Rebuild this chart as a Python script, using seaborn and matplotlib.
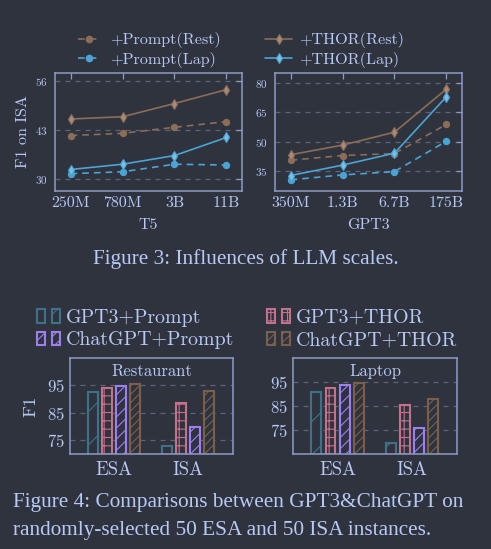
import numpy as np
import pandas as pd
import matplotlib
matplotlib.use("Agg")
import matplotlib.pyplot as plt
import seaborn as sns
from matplotlib.lines import Line2D
from matplotlib.patches import Patch
from matplotlib.legend_handler import HandlerTuple

# ---------------- data ----------------
t5_sizes = ["250M", "780M", "3B", "11B"]
gpt3_sizes = ["350M", "1.3B", "6.7B", "175B"]

t5_prompt_rest = [41.5, 42.1, 43.7, 45.2]
t5_prompt_lap = [31.4, 31.9, 33.9, 33.7]
t5_thor_rest = [45.9, 46.5, 50.0, 53.7]
t5_thor_lap = [32.5, 33.9, 36.2, 41.0]

gpt3_prompt_rest = [40.6, 43.0, 44.0, 58.9]
gpt3_prompt_lap = [30.6, 33.1, 34.8, 50.3]
gpt3_thor_rest = [43.4, 48.3, 54.9, 76.9]
gpt3_thor_lap = [32.8, 38.1, 44.2, 73.0]

t5_yticks = [30, 43, 56]
gpt3_yticks = [35, 50, 65, 80]

tasks = ["ESA", "ISA"]
methods = ["GPT3+Prompt", "GPT3+THOR", "ChatGPT+Prompt", "ChatGPT+THOR"]
rest_gpt3_prompt = [92.7, 72.8]
rest_gpt3_thor = [94.0, 88.7]
rest_chatgpt_prompt = [94.8, 80.0]
rest_chatgpt_thor = [95.5, 92.8]
lap_gpt3_prompt = [91.0, 69.7]
lap_gpt3_thor = [92.4, 85.4]
lap_chatgpt_prompt = [93.75, 75.7]
lap_chatgpt_thor = [94.6, 87.8]
bar_yticks = [75, 85, 95]

# ---------------- style ----------------
BG = "#2f333e"
TXT = "#b8c9f5"
SPINE = "#8e9bc6"
GRID = "#5d6376"
BROWN = "#8b6d58"
BROWN_L = "#a88c78"
BLUE = "#4ba4d4"
BLUE_L = "#7cbfe2"
BAR_COLORS = ["#3f7189", "#c4718c", "#9d80ec", "#7a604c"]
HATCHES = ["/", "++", "///", "////"]

sns.set_theme(style="dark")
plt.rcParams["font.family"] = ["cmr10", "DejaVu Serif"]
plt.rcParams["axes.formatter.use_mathtext"] = True
plt.rcParams["hatch.linewidth"] = 0.8
plt.rcParams["text.color"] = TXT
plt.rcParams["axes.labelcolor"] = TXT

W, H = 491, 549
fig = plt.figure(figsize=(W / 100, H / 100), dpi=100, facecolor=BG)


def ax_px(l, t, r, b):
    return fig.add_axes([l / W, 1 - b / H, (r - l) / W, (b - t) / H])


def style_axes(ax):
    ax.set_facecolor(BG)
    for s in ax.spines.values():
        s.set_visible(True)
        s.set_color(SPINE)
        s.set_linewidth(1.1)
    ax.xaxis.grid(False)
    ax.yaxis.grid(True, color=GRID, linestyle=(0, (4, 4)), linewidth=0.9)
    ax.set_axisbelow(True)


def line_panel(ax, sizes, series, ylim, yticks, xlabel):
    style_axes(ax)
    for values, color, face, ls, marker, ms in series:
        df = pd.DataFrame({"size": sizes, "f1": values})
        sns.lineplot(data=df, x="size", y="f1", ax=ax, sort=False, color=color,
                     linestyle=ls, marker=marker, markersize=ms,
                     markeredgecolor=color, markerfacecolor=face,
                     markeredgewidth=0.8, linewidth=1.2)
    ax.set_xlim(-0.3, 3.3)
    ax.set_ylim(*ylim)
    ax.set_yticks(yticks)
    ax.set_xlabel(xlabel, fontsize=11.5, labelpad=6)
    ax.set_ylabel("")
    ax.tick_params(axis="both", direction="in", top=True, right=True,
                   length=4, width=0.9, color=SPINE, labelcolor=TXT)
    ax.tick_params(axis="x", labelsize=11.5, pad=4)
    ax.tick_params(axis="y", labelsize=8, pad=5)


DASH = (0, (4, 3))
ax1 = ax_px(55, 73, 242, 191)
line_panel(ax1, t5_sizes, [
    (t5_prompt_rest, BROWN, BROWN, DASH, "o", 4.5),
    (t5_prompt_lap, BLUE, BLUE, DASH, "o", 4.5),
    (t5_thor_rest, BROWN, BROWN_L, "-", "d", 5),
    (t5_thor_lap, BLUE, BLUE_L, "-", "d", 5),
], (26.8, 58.1), t5_yticks, "T5")
ax1.set_ylabel("F1 on ISA", fontsize=11.5, labelpad=4)

ax2 = ax_px(275, 73, 462, 191)
line_panel(ax2, gpt3_sizes, [
    (gpt3_prompt_rest, BROWN, BROWN, DASH, "o", 4.5),
    (gpt3_prompt_lap, BLUE, BLUE, DASH, "o", 4.5),
    (gpt3_thor_rest, BROWN, BROWN_L, "-", "d", 5),
    (gpt3_thor_lap, BLUE, BLUE_L, "-", "d", 5),
], (24.9, 85.1), gpt3_yticks, "GPT3")

# line legends
h_pr = Line2D([], [], color=BROWN, ls=DASH, marker="o", ms=4.5, lw=1.2)
h_pl = Line2D([], [], color=BLUE, ls=DASH, marker="o", ms=4.5, lw=1.2)
h_tr = Line2D([], [], color=BROWN, ls="-", marker="d", ms=5, lw=1.2,
              mfc=BROWN_L, mec=BROWN, mew=0.8)
h_tl = Line2D([], [], color=BLUE, ls="-", marker="d", ms=5, lw=1.2,
              mfc=BLUE_L, mec=BLUE, mew=0.8)
leg_kw = dict(frameon=False, fontsize=11.6, borderpad=0, borderaxespad=0,
              labelspacing=0.2, labelcolor=TXT)
fig.legend([h_pr, h_pl], ["+Prompt(Rest)", "+Prompt(Lap)"], loc="center left",
           bbox_to_anchor=(78 / W, 1 - 50 / H), handlelength=1.4,
           handletextpad=0.6, **leg_kw)
fig.legend([h_tr, h_tl], ["+THOR(Rest)", "+THOR(Lap)"], loc="center left",
           bbox_to_anchor=(265 / W, 1 - 50 / H), handlelength=1.7,
           handletextpad=0.4, **leg_kw)


def bar_panel(ax, values, ylim, title):
    style_axes(ax)
    df = pd.DataFrame({
        "task": tasks * len(methods),
        "method": np.repeat(methods, len(tasks)),
        "f1": np.concatenate(values),
    })
    sns.barplot(data=df, x="task", y="f1", hue="method", hue_order=methods,
                palette=BAR_COLORS, fill=False, width=0.76, gap=0.3,
                linewidth=1.5, ax=ax, legend=False, errorbar=None)
    for cont, hatch, col in zip(ax.containers, HATCHES, BAR_COLORS):
        for p in cont:
            p.set_facecolor(BG)
            p.set_edgecolor(col)
            p.set_hatch(hatch)
    ax.set_xlim(-0.6, 1.61)
    ax.set_ylim(*ylim)
    ax.set_yticks(bar_yticks)
    ax.set_xlabel("")
    ax.set_ylabel("")
    ax.tick_params(axis="both", length=0, labelcolor=TXT)
    ax.tick_params(axis="x", labelsize=13.5, pad=5)
    ax.tick_params(axis="y", labelsize=12, pad=4)
    ax.text(0.5, 0.865, title, transform=ax.transAxes, ha="center",
            va="center", fontsize=12, color=TXT)


ax3 = ax_px(70, 358, 233, 454)
bar_panel(ax3, [rest_gpt3_prompt, rest_gpt3_thor, rest_chatgpt_prompt,
                rest_chatgpt_thor], (70, 105), "Restaurant")
ax3.set_ylabel("F1", fontsize=13.3, labelpad=6)

ax4 = ax_px(293, 358, 457, 454)
bar_panel(ax4, [lap_gpt3_prompt, lap_gpt3_thor, lap_chatgpt_prompt,
                lap_chatgpt_thor], (65, 105), "Laptop")


def bar_handle(i):
    mk = lambda: Patch(facecolor=BG, edgecolor=BAR_COLORS[i], hatch=HATCHES[i], lw=1.5)
    return (mk(), mk())


bleg_kw = dict(frameon=False, fontsize=14.3, borderpad=0, borderaxespad=0,
               labelspacing=0.25, labelcolor=TXT, handlelength=1.15,
               handleheight=0.7, handletextpad=0.3,
               handler_map={tuple: HandlerTuple(ndivide=None, pad=0.35)})
fig.legend([bar_handle(0), bar_handle(2)], ["GPT3+Prompt", "ChatGPT+Prompt"],
           loc="center left", bbox_to_anchor=(37 / W, 1 - 329 / H), **bleg_kw)
fig.legend([bar_handle(1), bar_handle(3)], ["GPT3+THOR", "ChatGPT+THOR"],
           loc="center left", bbox_to_anchor=(267 / W, 1 - 329 / H), **bleg_kw)

# captions
cap_font = ["Liberation Serif", "DejaVu Serif"]
fig.text(0.5, 1 - 259 / H, "Figure 3: Influences of LLM scales.", ha="center",
         va="center", fontsize=15.3, family=cap_font, color=TXT)
fig.text(13 / W, 1 - 503 / H, "Figure 4: Comparisons between GPT3&ChatGPT on",
         ha="left", va="center", fontsize=15.3, family=cap_font, color=TXT)
fig.text(13 / W, 1 - 530 / H, "randomly-selected 50 ESA and 50 ISA instances.",
         ha="left", va="center", fontsize=15.3, family=cap_font, color=TXT)

fig.savefig("out.png", dpi=100, facecolor=BG)
